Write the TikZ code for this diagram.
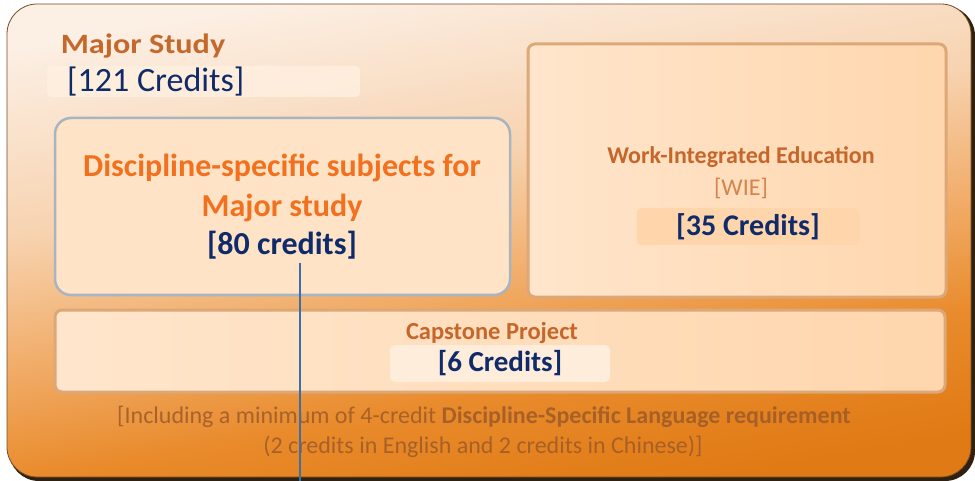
\documentclass[tikz,border=0pt]{standalone}
\usepackage{fontspec}
\setmainfont{Carlito}
\usetikzlibrary{positioning}
\definecolor{creditblue}{HTML}{102B6A}
\definecolor{headorange}{HTML}{F2711E}
\definecolor{paneltext}{HTML}{C5662A}
\definecolor{footbrown}{HTML}{9C5A28}
\definecolor{linkblue}{HTML}{3C6FA8}
\definecolor{paneledge}{HTML}{DCA878}
\definecolor{discedge}{HTML}{A8B4C0}
\definecolor{framebot}{HTML}{E07A14}
\definecolor{framelow}{HTML}{E98B2C}
\definecolor{framemid}{HTML}{F1AC68}
\definecolor{framehigh}{HTML}{F7D3B0}
\definecolor{frametop}{HTML}{FCEFE4}
\pgfdeclareverticalshading{framefill}{100bp}{%
  color(0bp)=(framebot); color(25bp)=(framebot); color(36bp)=(framelow);
  color(46bp)=(framemid); color(58bp)=(framehigh); color(75bp)=(frametop); color(100bp)=(frametop)}
\tikzset{
  panel/.style={draw=paneledge,line width=3pt,rounded corners=7pt,
    left color=#1,right color=#1!85!orange},
  paneltitle/.style={text=paneltext,font=\bfseries\fontsize{24}{28}\selectfont,inner sep=0pt},
  creditbox/.style={fill=#1,rounded corners=5pt,inner sep=0pt},
  credit/.style={text=creditblue,font=\bfseries\fontsize{30}{36}\selectfont,inner sep=0pt},
  foot/.style={text=footbrown,opacity=0.85,font=\fontsize{24}{28}\selectfont,inner sep=0pt}
}
\begin{document}
\begin{tikzpicture}[x=1pt,y=-1pt]
	\useasboundingbox (0,0) rectangle (975,481);
	% outer frame
	\fill[black!75!brown,rounded corners=30pt] (9,6) rectangle (975,481);
	\shade[shading=framefill,shading angle=10,rounded corners=30pt] (7,4) rectangle (971,477);
	\draw[brown!60!black,line width=0.8pt,rounded corners=30pt] (7,4) rectangle (971,477);
	% major study
	\node[text=paneltext!90!brown,font=\bfseries\fontsize{28}{32}\selectfont,inner sep=0pt] (major) at (143,46) {\scalebox{1.15}[1]{Major Study}};
	\fill[orange!12!white,opacity=0.8,rounded corners=4pt] (47,66) rectangle (360,97);
	\node[text=creditblue,font=\fontsize{34}{40}\selectfont,anchor=west,inner sep=0pt] (majorcr) at (67,82) {[121 Credits]};
	% panels
	\draw[panel=orange!20!white] (528,44) rectangle (946,297);
	\draw[panel=orange!20!white] (55,310) rectangle (945,392);
	\draw[fill=orange!22!white,draw=discedge,line width=2.5pt,rounded corners=16pt] (55,118) rectangle (510,295);
	% discipline-specific
	\node[text=headorange,font=\bfseries\fontsize{32}{40}\selectfont,align=center,inner sep=0pt] (dss) at (282,188) {Discipline-specific subjects for\\Major study};
	\node[credit,font=\bfseries\fontsize{32}{38}\selectfont] (dsscr) at (282,245) {[80 credits]};
	% work-integrated education
	\node[paneltitle] (wie) at (741,157) {Work-Integrated Education};
	\node[paneltitle,font=\fontsize{24}{28}\selectfont,opacity=0.75] (wieabbr) at (741,188) {[WIE]};
	\node[creditbox=orange!33!white,minimum width=223pt,minimum height=37pt] (wiebg) at (748,226.5) {};
	\node[credit] (wiecr) at (wiebg) {[35 Credits]};
	% capstone
	\node[paneltitle,font=\bfseries\fontsize{24.5}{28}\selectfont] (cap) at (492,333) {Capstone Project};
	\node[creditbox=orange!14!white,minimum width=220pt,minimum height=37pt] (capbg) at (500,363.5) {};
	\node[credit,font=\bfseries\fontsize{29}{34}\selectfont] (capcr) at (capbg) {[6 Credits]};
	% language requirement
	\node[foot] (lang) at (484,417) {[Including a minimum of 4-credit \textbf{Discipline-Specific Language requirement}};
	\node[foot] (langsplit) at (483,447) {(2 credits in English and 2 credits in Chinese)]};
	% link
	\coordinate (tail) at (300,481);
	\draw[linkblue,line width=1.6pt] (tail |- dsscr.south) ++(0,4) -- (tail);
\end{tikzpicture}
\end{document}
